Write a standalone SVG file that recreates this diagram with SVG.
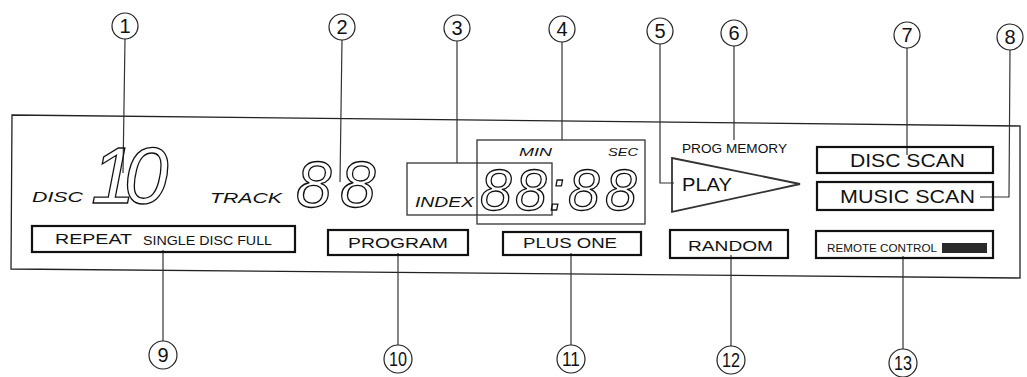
<svg xmlns="http://www.w3.org/2000/svg" width="1027" height="377" viewBox="0 0 1027 377">
<style>
.bg{fill:#fff}
.panel{fill:none;stroke:#222;stroke-width:1.3}
.box{fill:none;stroke:#111;stroke-width:2.2}
.tbox{fill:none;stroke:#333;stroke-width:1.3}
.lead{fill:none;stroke:#333;stroke-width:1.2}
.circ{fill:#fff;stroke:#222;stroke-width:1.2}
.num{font-family:"Liberation Sans",Arial,sans-serif;font-size:20px;fill:#111;text-anchor:middle}
.lbl{font-family:"Liberation Sans",Arial,sans-serif;fill:#111}
.it{font-family:"Liberation Sans",Arial,sans-serif;font-style:italic;fill:#111}
.seg{font-family:"Liberation Sans",Arial,sans-serif;font-style:italic;fill:none;stroke:#111;stroke-width:1.3}
</style>
<rect class="bg" x="0" y="0" width="1027" height="377"/>
<polygon id="panel" class="panel" points="12,115 1020,126 1020,278 11,269"/>

<g id="connectors">
<polyline class="lead" points="125,39 123,173"/>
<polyline class="lead" points="342,40 340,182"/>
<polyline class="lead" points="457,41 457,163"/>
<polyline class="lead" points="562,42 562,140"/>
<polyline class="lead" points="660,44 660,183 674,183"/>
<polyline class="lead" points="734,46 734,140"/>
<polyline class="lead" points="907,48 907,155"/>
<polyline class="lead" points="1010,50 1009,197 980,197"/>
<polyline class="lead" points="163,250 163,341"/>
<polyline class="lead" points="398,253 398,345"/>
<polyline class="lead" points="571,253 571,345"/>
<polyline class="lead" points="731,255 731,346"/>
<polyline class="lead" points="903,256 903,349"/>
</g>

<g id="c1"><circle class="circ" cx="125" cy="26" r="13"/><text class="num" x="125" y="33">1</text></g>
<g id="c2"><circle class="circ" cx="342" cy="27" r="13"/><text class="num" x="342" y="34">2</text></g>
<g id="c3"><circle class="circ" cx="457" cy="28" r="13"/><text class="num" x="457" y="35">3</text></g>
<g id="c4"><circle class="circ" cx="562" cy="29" r="13"/><text class="num" x="562" y="36">4</text></g>
<g id="c5"><circle class="circ" cx="660" cy="31" r="13"/><text class="num" x="660" y="38">5</text></g>
<g id="c6"><circle class="circ" cx="734" cy="33" r="13"/><text class="num" x="734" y="40">6</text></g>
<g id="c7"><circle class="circ" cx="907" cy="35" r="13"/><text class="num" x="907" y="42">7</text></g>
<g id="c8"><circle class="circ" cx="1010" cy="37" r="13"/><text class="num" x="1010" y="44">8</text></g>
<g id="c9"><circle class="circ" cx="163" cy="355" r="14"/><text class="num" x="163" y="362">9</text></g>
<g id="c10"><circle class="circ" cx="398" cy="359" r="14"/><text class="num" x="389" y="366" style="text-anchor:start" textLength="18" lengthAdjust="spacingAndGlyphs">10</text></g>
<g id="c11"><circle class="circ" cx="571" cy="359" r="14"/><text class="num" x="562" y="366" style="text-anchor:start" textLength="18" lengthAdjust="spacingAndGlyphs">11</text></g>
<g id="c12"><circle class="circ" cx="731" cy="360" r="14"/><text class="num" x="722" y="367" style="text-anchor:start" textLength="18" lengthAdjust="spacingAndGlyphs">12</text></g>
<g id="c13"><circle class="circ" cx="903" cy="363" r="14"/><text class="num" x="894" y="370" style="text-anchor:start" textLength="18" lengthAdjust="spacingAndGlyphs">13</text></g>

<g id="disc">
<text class="it" x="32" y="202" font-size="14" textLength="51" lengthAdjust="spacingAndGlyphs">DISC</text>
<text class="seg" x="91 124" y="203" font-size="80">10</text>
</g>
<g id="track">
<text class="it" x="210" y="203" font-size="15" textLength="72" lengthAdjust="spacingAndGlyphs">TRACK</text>
<text class="seg" x="296 340" y="207" font-size="64">88</text>
</g>
<g id="index">
<rect class="tbox" x="407" y="163" width="145" height="52"/>
<text class="it" x="415" y="207" font-size="14" textLength="59" lengthAdjust="spacingAndGlyphs">INDEX</text>
</g>
<g id="time">
<rect class="tbox" x="477" y="140" width="168" height="84"/>
<text class="it" x="519" y="155.5" font-size="10" textLength="33" lengthAdjust="spacingAndGlyphs">MIN</text>
<text class="it" x="608" y="155.5" font-size="10" textLength="30" lengthAdjust="spacingAndGlyphs">SEC</text>
<text class="seg" x="480 515 549 568 605" y="210" font-size="57">88:88</text>
</g>
<g id="play">
<polygon class="tbox" points="672,158 800,184 672,212" style="stroke-width:1.8"/>
<text class="lbl" x="682" y="191" font-size="19" textLength="50" lengthAdjust="spacingAndGlyphs">PLAY</text>
</g>
<g id="progmemory">
<text class="lbl" x="682" y="153" font-size="13" textLength="105" lengthAdjust="spacingAndGlyphs">PROG MEMORY</text>
</g>
<g id="discscan">
<rect class="box" x="817" y="147" width="176" height="26"/>
<text class="lbl" x="850" y="167" font-size="18" textLength="115" lengthAdjust="spacingAndGlyphs">DISC SCAN</text>
</g>
<g id="musicscan">
<rect class="box" x="817" y="182" width="176" height="28"/>
<text class="lbl" x="840" y="203" font-size="18" textLength="135" lengthAdjust="spacingAndGlyphs">MUSIC SCAN</text>
</g>
<g id="repeat">
<rect class="box" x="32" y="226" width="263" height="26"/>
<text class="lbl" x="55" y="244" font-size="14" textLength="77" lengthAdjust="spacingAndGlyphs">REPEAT</text>
<text class="lbl" x="143" y="245" font-size="12.5" textLength="129" lengthAdjust="spacingAndGlyphs">SINGLE DISC FULL</text>
</g>
<g id="program">
<rect class="box" x="328" y="230" width="140" height="25"/>
<text class="lbl" x="348" y="248" font-size="15" textLength="100" lengthAdjust="spacingAndGlyphs">PROGRAM</text>
</g>
<g id="plusone">
<rect class="box" x="503" y="232" width="138" height="23"/>
<text class="lbl" x="523" y="248" font-size="15" textLength="94" lengthAdjust="spacingAndGlyphs">PLUS ONE</text>
</g>
<g id="random">
<rect class="box" x="670" y="230" width="118" height="28"/>
<text class="lbl" x="688" y="251" font-size="15" textLength="85" lengthAdjust="spacingAndGlyphs">RANDOM</text>
</g>
<g id="remote">
<rect class="box" x="816" y="231" width="177" height="27"/>
<text class="lbl" x="827" y="252" font-size="11" textLength="110" lengthAdjust="spacingAndGlyphs">REMOTE CONTROL</text>
<rect x="942" y="243" width="45" height="10" fill="#2a2a2a"/>
</g>
</svg>
